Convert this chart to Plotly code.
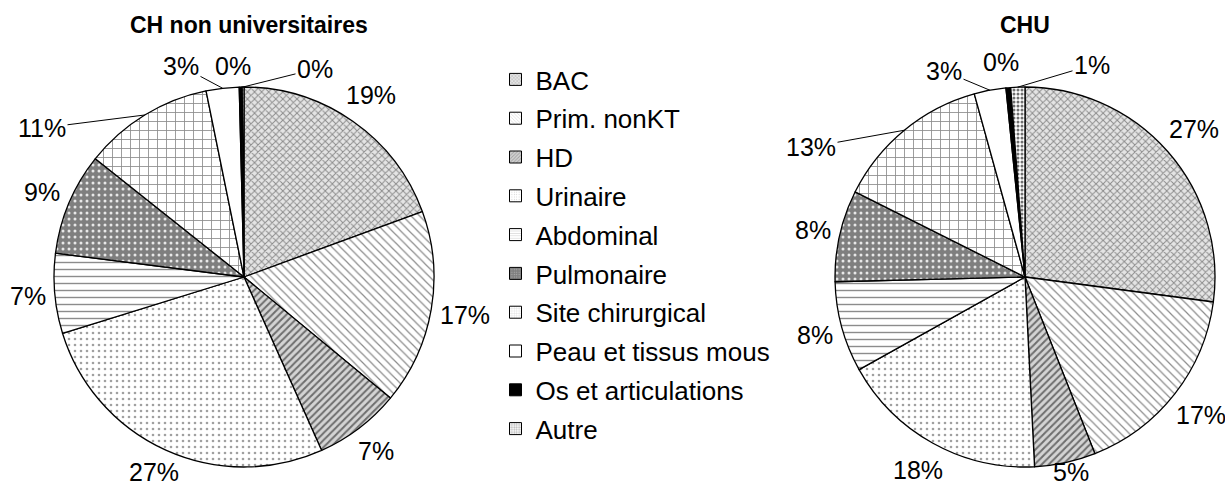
import math
import plotly.graph_objects as go

# categories shown in the shared legend
categories = ["BAC", "Prim. nonKT", "HD", "Urinaire", "Abdominal", "Pulmonaire",
              "Site chirurgical", "Peau et tissus mous", "Os et articulations", "Autre"]

# share of infections (%)
ch_values = [19.4, 16.6, 7.3, 26.9, 6.8, 8.7, 11.1, 2.8, 0.25, 0.15]
chu_values = [27.1, 16.9, 5.2, 17.7, 7.7, 7.8, 13.3, 2.7, 0.4, 1.2]

titles = ["CH non universitaires", "CHU"]

# grayscale fills, one per category
shapes = ["x", "\\", "/", ".", "-", ".", "+", "", "", "."]
fg = ["#8c8c8c", "#8c8c8c", "#6e6e6e", "#a0a0a0", "#8c8c8c", "#e8e8e8",
      "#8c8c8c", "#ffffff", "#000000", "#707070"]
bg = ["#e4e4e4", "#ffffff", "#d4d4d4", "#ffffff", "#ffffff", "#7f7f7f",
      "#ffffff", "#ffffff", "#000000", "#ffffff"]
psize = [5, 6, 5, 6, 7, 6, 9, 6, 6, 4]
solid = [0.35, 0.2, 0.4, 0.15, 0.2, 0.2, 0.18, 0.2, 0.2, 0.45]

W, H = 1225, 487
FONT = "Liberation Sans, Arial, sans-serif"
LBL = 25

# pie placement in pixels, plus hand-placed labels (offset from pie centre) for the
# crowded slices at the top, which get a leader line
charts = [
    dict(values=ch_values, cx=244, cy=277, r=190,
         moved={6: (-202, -149), 7: (-63, -211), 8: (-11, -211), 9: (71, -208)}),
    dict(values=chu_values, cx=1025, cy=277, r=190,
         moved={6: (-214, -130), 7: (-81, -206), 8: (-24, -215), 9: (67, -212)}),
]
no_line = {8}

pattern = dict(shape=shapes, fgcolor=fg, bgcolor=bg, size=psize, solidity=solid)

fig = go.Figure()


def px(x, y):
    return x / W, 1 - y / H


for ch in charts:
    cx, cy, r = ch["cx"], ch["cy"], ch["r"]
    fig.add_trace(go.Pie(
        labels=categories, values=ch["values"], sort=False, direction="clockwise", rotation=0,
        domain=dict(x=[(cx - r) / W, (cx + r) / W], y=[1 - (cy + r) / H, 1 - (cy - r) / H]),
        marker=dict(colors=bg, pattern=pattern, line=dict(color="black", width=1.3)),
        textinfo="none", showlegend=False, hoverinfo="label+percent",
    ))

    total = sum(ch["values"])
    cum = 0
    for i, v in enumerate(ch["values"]):
        mid = (cum + v / 2) / total * 2 * math.pi
        cum += v
        txt = f"{round(v / total * 100)}%"
        s, c = math.sin(mid), -math.cos(mid)
        if i in ch["moved"]:
            tx, ty = cx + ch["moved"][i][0], cy + ch["moved"][i][1]
            ex, ey = cx + s * r, cy + c * r
            if i in no_line:
                x, y = px(tx, ty)
                fig.add_annotation(x=x, y=y, text=txt, showarrow=False)
            else:
                x, y = px(ex, ey)
                fig.add_annotation(x=x, y=y, text=txt, showarrow=True, arrowhead=0,
                                   arrowwidth=1, arrowcolor="black", standoff=0,
                                   ax=tx - ex, ay=ty - ey)
        else:
            hw = 0.56 * LBL * len(txt) / 2 + 2
            d = r * 1.05 + hw * abs(s) + 12 * abs(c)
            lx = min(cx + s * d, W - hw - 1)
            ly = min(cy + c * d, H - 15)
            x, y = px(lx, ly)
            fig.add_annotation(x=x, y=y, text=txt, showarrow=False)

for t, xc in zip(titles, [249, 1025]):
    x, y = px(xc, 25)
    fig.add_annotation(text="<b>" + t + "</b>", x=x, y=y, showarrow=False,
                       font=dict(size=23))

fig.update_annotations(xref="paper", yref="paper", xanchor="center", yanchor="middle",
                       font=dict(color="black", family=FONT))
for a in fig.layout.annotations:
    if a.font.size is None:
        a.font.size = LBL

# legend built from empty patterned bars so the item spacing can be widened
for i, name in enumerate(categories):
    fig.add_trace(go.Bar(
        x=[None], y=[None], name=name, legendgroup=name,
        marker=dict(color=bg[i], line=dict(color="black", width=1),
                    pattern=dict(shape=shapes[i], fgcolor=fg[i], bgcolor=bg[i],
                                 size=3, solidity=solid[i])),
    ))

fig.update_layout(
    width=W, height=H,
    margin=dict(l=0, r=0, t=0, b=0),
    paper_bgcolor="white", plot_bgcolor="white",
    font=dict(family=FONT, color="black"),
    xaxis=dict(visible=False, domain=[0.45, 0.46]),
    yaxis=dict(visible=False),
    legend=dict(x=0.4045, y=0.885, xanchor="left", yanchor="top",
                font=dict(size=26, color="black", family=FONT),
                tracegroupgap=2, bgcolor="rgba(0,0,0,0)"),
)

fig.write_html("out.html", config={"displayModeBar": False},
               post_script="document.body.style.margin='0';")
